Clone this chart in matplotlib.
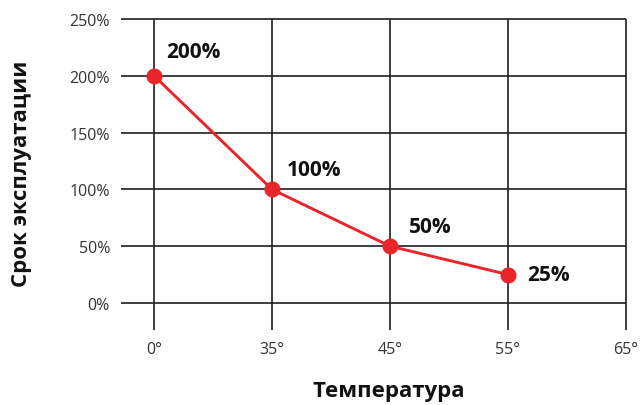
import matplotlib
matplotlib.use('Agg')
import matplotlib.pyplot as plt

# Data
temps = ['0°', '35°', '45°', '55°', '65°']
life = [200, 100, 50, 25]
life_labels = ['200%', '100%', '50%', '25%']
y_ticks = [0, 50, 100, 150, 200, 250]
y_tick_labels = ['0%', '50%', '100%', '150%', '200%', '250%']
label_offsets = [(12, 24), (15, 20), (19, 20), (19, 0)]

plt.rcParams['font.family'] = ['Open Sans', 'DejaVu Sans']

fig = plt.figure(figsize=(6.43, 4.06), dpi=100)
ax = fig.add_axes([121 / 643, 1 - 331.2 / 406, 506 / 643, 313.5 / 406])

xpos = list(range(len(temps)))
x_left, x_right = -0.28, 4.01
y_bottom, y_top = -24, 252
ax.set_xlim(x_left, x_right)
ax.set_ylim(y_bottom, y_top)

grid_color = '#1e1e1e'
ax.hlines(y_ticks, x_left, xpos[-1], color=grid_color, lw=1.2, zorder=1)
ax.vlines(xpos, y_bottom, y_ticks[-1], color=grid_color, lw=1.2, zorder=1)

red = '#e8252a'
ax.plot(xpos[:len(life)], life, color=red, lw=2.1, marker='o', markersize=10.5, zorder=3)

for x, y, lab, off in zip(xpos, life, life_labels, label_offsets):
    ax.annotate(lab, (x, y), xytext=(off[0] * 0.72, off[1] * 0.72), textcoords='offset points',
                ha='left', va='center', fontsize=15, fontweight='bold', color='#111111')

for s in ax.spines.values():
    s.set_visible(False)

ax.set_yticks(y_ticks)
ax.set_yticklabels(y_tick_labels)
ax.set_xticks(xpos)
ax.set_xticklabels(temps)
ax.tick_params(axis='both', length=0, labelsize=11.5, labelcolor='#333333')
ax.tick_params(axis='y', pad=8)
ax.tick_params(axis='x', pad=8)

fig.text(22 / 643, 1 - 174 / 406, 'Срок эксплуатации', rotation=90, ha='center', va='center',
         fontsize=16, fontweight='bold', color='#111111')
fig.text(389 / 643, 1 - 392 / 406, 'Температура', ha='center', va='center',
         fontsize=16, fontweight='bold', color='#111111')

fig.savefig('out.png', dpi=100)
